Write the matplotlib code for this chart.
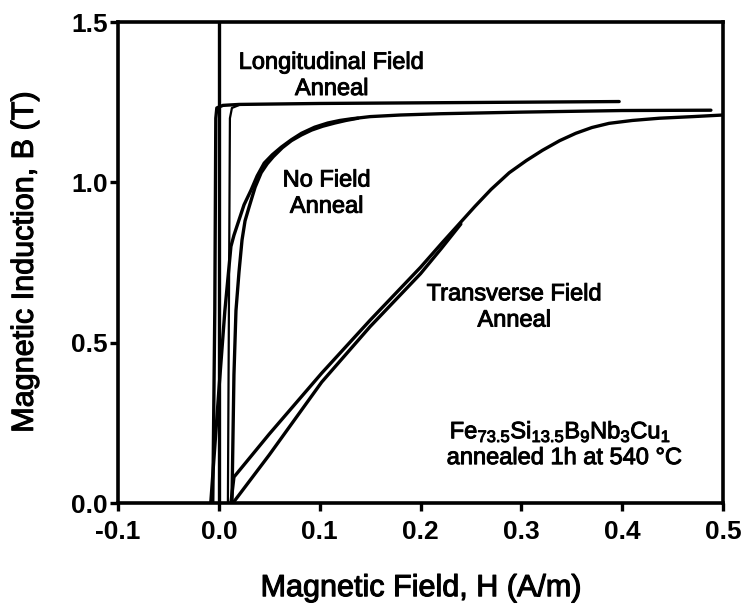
import matplotlib
matplotlib.use("Agg")
import matplotlib.pyplot as plt
import matplotlib.patheffects as pe

plt.rcParams['font.family'] = ['Liberation Sans', 'DejaVu Sans']
plt.rcParams['mathtext.fontset'] = 'custom'
plt.rcParams['mathtext.rm'] = 'Liberation Sans'
plt.rcParams['mathtext.default'] = 'regular'
plt.rcParams['axes.unicode_minus'] = False

# Longitudinal field anneal: square loop
long_desc_H = [0.397, 0.25, 0.10, 0.02, 0.004, -0.002, -0.003, -0.004, -0.006]
long_desc_B = [1.252, 1.249, 1.246, 1.243, 1.240, 1.232, 1.20, 0.60, 0.0]
long_asc_H = [0.009, 0.010, 0.011, 0.013, 0.020]
long_asc_B = [0.0, 0.60, 1.20, 1.232, 1.241]

# No field anneal
nf_desc_H = [0.488, 0.40, 0.30, 0.22, 0.18, 0.15, 0.131, 0.12, 0.108, 0.095, 0.082,
             0.072, 0.062, 0.053, 0.045, 0.038, 0.032, 0.025, 0.019, 0.015, 0.012,
             0.006, 0.0, -0.008]
nf_desc_B = [1.225, 1.224, 1.219, 1.214, 1.210, 1.205, 1.198, 1.193, 1.185, 1.172, 1.153,
             1.133, 1.11, 1.086, 1.06, 1.02, 0.976, 0.93, 0.873, 0.835, 0.80,
             0.60, 0.35, 0.0]
nf_asc_H = [0.013, 0.014, 0.015, 0.017, 0.020, 0.023, 0.026, 0.030, 0.036, 0.042,
            0.048, 0.054, 0.063, 0.072, 0.082, 0.092, 0.103, 0.115, 0.126, 0.138]
nf_asc_B = [0.0, 0.20, 0.40, 0.60, 0.72, 0.82, 0.88, 0.923, 0.985, 1.03,
            1.058, 1.08, 1.108, 1.13, 1.148, 1.163, 1.175, 1.185, 1.193, 1.20]

# Transverse field anneal
tr_desc_H = [0.50, 0.47, 0.437, 0.41, 0.387, 0.37, 0.354, 0.338, 0.321, 0.305, 0.288,
             0.27, 0.254, 0.221, 0.20, 0.15, 0.102, 0.05, 0.015, 0.012]
tr_desc_B = [1.21, 1.205, 1.20, 1.193, 1.184, 1.171, 1.153, 1.13, 1.10, 1.068, 1.03,
             0.978, 0.925, 0.81, 0.735, 0.57, 0.405, 0.215, 0.081, 0.0]
tr_asc_H = [0.014, 0.05, 0.102, 0.15, 0.20, 0.221, 0.24]
tr_asc_B = [0.0, 0.15, 0.377, 0.55, 0.715, 0.795, 0.87]

x_ticks = [-0.1, 0.0, 0.1, 0.2, 0.3, 0.4, 0.5]
x_tick_labels = ['-0.1', '0.0', '0.1', '0.2', '0.3', '0.4', '0.5']
y_ticks = [0.0, 0.5, 1.0, 1.5]
y_tick_labels = ['0.0', '0.5', '1.0', '1.5']

fig = plt.figure(figsize=(7.43, 6.10), dpi=100)
ax = fig.add_axes([0.1588, 0.1754, 0.8143, 0.7885])

lw = 2.4
ax.axvline(0.0, color='black', lw=2.4, zorder=1)
ax.plot(long_desc_H, long_desc_B, color='black', lw=lw, solid_capstyle='round',
        solid_joinstyle='round')
ax.plot(long_asc_H, long_asc_B, color='black', lw=1.6, solid_capstyle='round',
        solid_joinstyle='round')
for H, B in [(nf_desc_H, nf_desc_B), (nf_asc_H, nf_asc_B),
             (tr_desc_H, tr_desc_B), (tr_asc_H, tr_asc_B)]:
    ax.plot(H, B, color='black', lw=lw, solid_capstyle='round',
            solid_joinstyle='round')

ax.set_xlim(-0.1, 0.5)
ax.set_ylim(0.0, 1.5)
ax.set_xticks(x_ticks)
ax.set_xticklabels(x_tick_labels)
ax.set_yticks(y_ticks)
ax.set_yticklabels(y_tick_labels)

for s in ax.spines.values():
    s.set_linewidth(2.6)
ax.tick_params(axis='both', direction='out', length=5.5, width=2.4,
               labelsize=19)
ax.tick_params(axis='x', pad=7)
ax.tick_params(axis='y', pad=2)
for lab in ax.get_xticklabels() + ax.get_yticklabels():
    lab.set_fontweight('bold')

heavy = [pe.withStroke(linewidth=0.8, foreground='black')]
ax.set_xlabel('Magnetic Field, H (A/m)', fontsize=22, va='center',
              path_effects=heavy)
ax.xaxis.set_label_coords(0.5, -0.177)
ax.set_ylabel('Magnetic Induction, B (T)', fontsize=22, va='center',
              path_effects=heavy)
ax.yaxis.set_label_coords(-0.154, 0.5)

thick = [pe.withStroke(linewidth=0.7, foreground='black')]
ann = dict(fontsize=17, ha='center', va='center', linespacing=1.25,
           path_effects=thick)
ax.text(0.112, 1.332, 'Longitudinal Field\nAnneal', **ann)
ax.text(0.107, 0.965, 'No Field\nAnneal', **ann)
ax.text(0.293, 0.61, 'Transverse Field\nAnneal', **ann)
ax.text(0.229, 0.222, r'Fe$_{73.5}$Si$_{13.5}$B$_9$Nb$_3$Cu$_1$', fontsize=17,
        ha='left', va='center', path_effects=thick)
ax.text(0.226, 0.14, 'annealed 1h at 540 °C', fontsize=17,
        ha='left', va='center', path_effects=thick)

fig.savefig('out.png', dpi=100, facecolor='white')
